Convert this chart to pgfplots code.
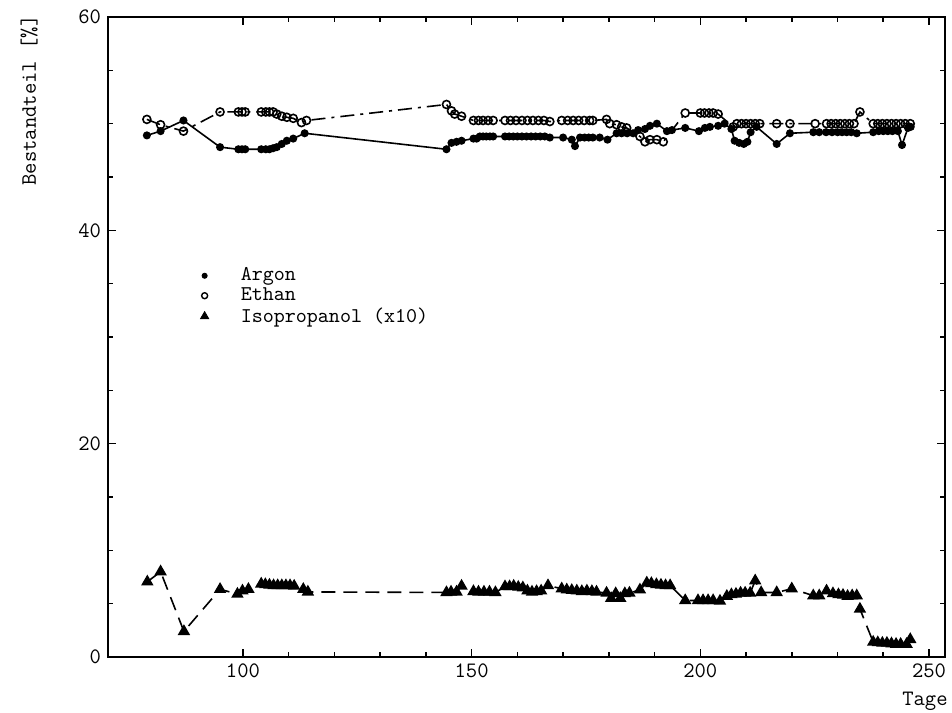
\documentclass[border=0pt]{standalone}
\usepackage{pgfplots}
\pgfplotsset{compat=1.18}
\begin{document}
\begin{tikzpicture}
\begin{axis}[
  name=ax,
  scale only axis,
  width=418.5pt, height=320pt,
  xmin=70.5, xmax=253.5, ymin=0, ymax=60,
  xtick={100,150,200,250}, minor x tick num=4,
  ytick={0,20,40,60}, minor y tick num=3,
  tick align=inside, tick pos=both,
  major tick length=4pt, minor tick length=2.5pt,
  axis line style={line width=1pt},
  every tick/.style={line width=0.8pt},
  tick label style={font=\fontsize{11}{13}\selectfont\ttfamily},
  /pgf/number format/assume math mode=true,
  legend style={draw=none, fill=none, at={(rel axis cs:0.11,0.612)}, anchor=north west, font=\fontsize{10.5}{12}\selectfont\ttfamily, row sep=0pt, column sep=14pt, inner sep=0pt, nodes={inner ysep=1pt}},
  legend cell align=left,
]
\addlegendimage{only marks, mark=*, mark size=1.3pt, black}
\addlegendentry{Argon}
\addlegendimage{only marks, mark=o, mark size=1.5pt, black, mark options={line width=0.7pt}}
\addlegendentry{Ethan}
\addlegendimage{only marks, mark=triangle*, mark size=2.4pt, black}
\addlegendentry{Isopropanol (x10)}

% Argon
\addplot[forget plot, black, line width=0.8pt, mark=*, mark size=1.6pt] coordinates {
(79,48.9)(82,49.3)(87,50.3)(95,47.8)(99,47.6)(99.8,47.6)(100.5,47.6)
(104,47.6)(105,47.6)(105.8,47.6)(106.6,47.7)(107.4,47.8)(108.5,48.1)(109.6,48.4)(111,48.6)(113.5,49.1)
(144.5,47.6)(145.6,48.2)(146.7,48.3)(147.8,48.4)(150.4,48.6)(151.1,48.6)(151.8,48.8)(152.5,48.8)(153.2,48.8)(154,48.8)(154.7,48.8)
(157.3,48.8)(158.2,48.8)(159.1,48.8)(160,48.8)(161,48.8)(162,48.8)(163,48.8)(164,48.8)(165,48.8)(166,48.8)(167.1,48.7)
(170,48.7)(171.9,48.5)(172.6,47.9)(173.7,48.7)(174.7,48.7)(175.6,48.7)(176.5,48.7)(178,48.7)(179.7,48.5)
(181.7,49.1)(182.8,49.1)(184,49.1)(185.3,49.1)(186.4,49.4)(187.9,49.5)(189,49.8)(190.5,50.0)(192.7,49.3)(193.8,49.4)
(196.7,49.6)(199.7,49.3)(201,49.6)(202.1,49.7)(203.9,49.8)(205.3,50.0)(206.8,49.5)(207.5,48.4)(208.5,48.2)(209.5,48.1)(210.3,48.3)
(211,49.2)(212.3,49.7)(216.7,48.1)(219.6,49.1)(224.7,49.2)(226,49.2)(227.5,49.2)(228.8,49.2)(230,49.2)(231,49.2)(232,49.2)(233,49.2)(234.2,49.1)
(237.8,49.2)(239,49.3)(240,49.3)(241,49.3)(242,49.3)(243.2,49.3)(244.1,48.0)(245.4,49.6)(246,49.7)
};

% Ethan
\addplot[forget plot, black, line width=0.8pt, dash pattern=on 7pt off 3pt on 1.5pt off 3pt, mark=o, mark size=2pt, mark options={solid, fill=white, line width=0.8pt}] coordinates {
(79,50.4)(82,49.9)(87,49.3)(95,51.1)(99,51.1)(99.8,51.1)(100.5,51.1)
(104,51.1)(105,51.1)(105.8,51.1)(106.6,51.1)(107.4,50.9)(108.5,50.7)(109.6,50.6)(111,50.5)(112.8,50.1)(113.9,50.3)
(144.5,51.8)(145.6,51.2)(146.3,50.9)(147.8,50.7)(150.4,50.3)(151.5,50.3)(152.5,50.3)(153.6,50.3)(154.7,50.3)
(157.3,50.3)(158.5,50.3)(159.7,50.3)(161,50.3)(162.2,50.3)(163.4,50.3)(164.6,50.3)(165.8,50.3)(167.1,50.2)
(169.7,50.3)(171,50.3)(172.2,50.3)(173.4,50.3)(174.6,50.3)(175.8,50.3)(176.5,50.3)
(179.5,50.4)(180.2,50.0)(181.7,49.9)(182.8,49.7)(183.9,49.6)(186.8,48.8)(187.9,48.3)(189,48.5)(190.5,48.5)(191.9,48.3)
(196.7,51.0)(200,51.0)(200.9,51.0)(201.9,51.0)(202.8,51.0)(203.9,50.9)
(207.2,49.7)(208,50.0)(209,50.0)(210,50.0)(211,50.0)(212,50.0)(213,50.0)(216.7,50.0)(219.6,50.0)
(225.1,50.0)(227.6,50.0)(228.6,50.0)(229.6,50.0)(230.6,50.0)(231.6,50.0)(232.6,50.0)(233.6,50.0)(234.9,51.1)
(237.8,50.0)(238.8,50.0)(239.8,50.0)(240.8,50.0)(241.8,50.0)(242.8,50.0)(243.8,50.0)(244.8,50.0)(245.9,50.0)
};

% Isopropanol (x10)
\addplot[forget plot, black, line width=0.8pt, dash pattern=on 7pt off 4pt, mark=triangle*, mark size=2.8pt, mark options={solid}] coordinates {
(79.1,7.05)(82,8.0)(87.1,2.4)(95,6.35)(98.8,5.9)(99.9,6.2)(101.2,6.35)
(104,6.85)(104.9,6.8)(105.8,6.75)(106.7,6.7)(107.6,6.7)(108.5,6.7)(109.4,6.7)(110.3,6.7)(111.2,6.65)(113.2,6.35)(114.2,6.1)
(144.5,6.05)(145.5,6.1)(146.7,6.1)(147.8,6.65)(150.4,6.15)(151.5,6.1)(152.7,6.1)(153.9,6.1)(155.2,6.05)
(157.3,6.6)(158.3,6.6)(159.2,6.65)(160.2,6.55)(161.2,6.5)(162.2,6.2)(163.2,6.1)(164.2,6.15)(165.2,6.2)(166.7,6.7)
(169.7,6.4)(170.8,6.3)(171.9,6.25)(173,6.2)(174.1,6.15)(175.2,6.2)(176.3,6.15)(177.3,6.1)
(179.5,6.0)(180.5,5.5)(181.5,5.95)(182.5,5.5)(183.5,5.95)(184.5,6.0)(186.8,6.3)
(188.3,6.95)(189.3,6.9)(190.4,6.8)(191.4,6.75)(192.4,6.7)(193.4,6.7)
(196.7,5.3)(199.5,5.3)(200.6,5.3)(201.7,5.3)(202.8,5.3)(204.3,5.25)
(205.8,5.7)(206.8,5.85)(207.8,5.9)(208.8,6.0)(209.8,6.0)(210.9,6.0)(212,7.15)(213.3,6.05)(216.7,6.05)(220,6.4)
(224.7,5.75)(226,5.75)(227.6,6.2)(229,5.95)(230.2,5.85)(231.2,5.8)(232.2,5.7)(233.2,5.75)(234.2,5.75)(234.9,4.5)
(237.8,1.4)(238.8,1.35)(239.8,1.3)(240.8,1.3)(241.8,1.25)(242.8,1.2)(243.8,1.2)(245.1,1.2)(245.9,1.65)
};
\end{axis}
\node[rotate=90, anchor=south east, inner sep=0pt, font=\fontsize{11}{13}\selectfont\ttfamily] at ([xshift=-35pt,yshift=1pt]ax.north west) {Bestandteil [\%]};
\node[anchor=north east, inner sep=0pt, font=\fontsize{11}{13}\selectfont\ttfamily] at ([xshift=1.5pt,yshift=-17.5pt]ax.south east) {Tage};
\pgfresetboundingbox
\path ([xshift=-54pt,yshift=-27.5pt]ax.south west) rectangle ([xshift=3.5pt,yshift=8.5pt]ax.north east);
\end{tikzpicture}
\end{document}
